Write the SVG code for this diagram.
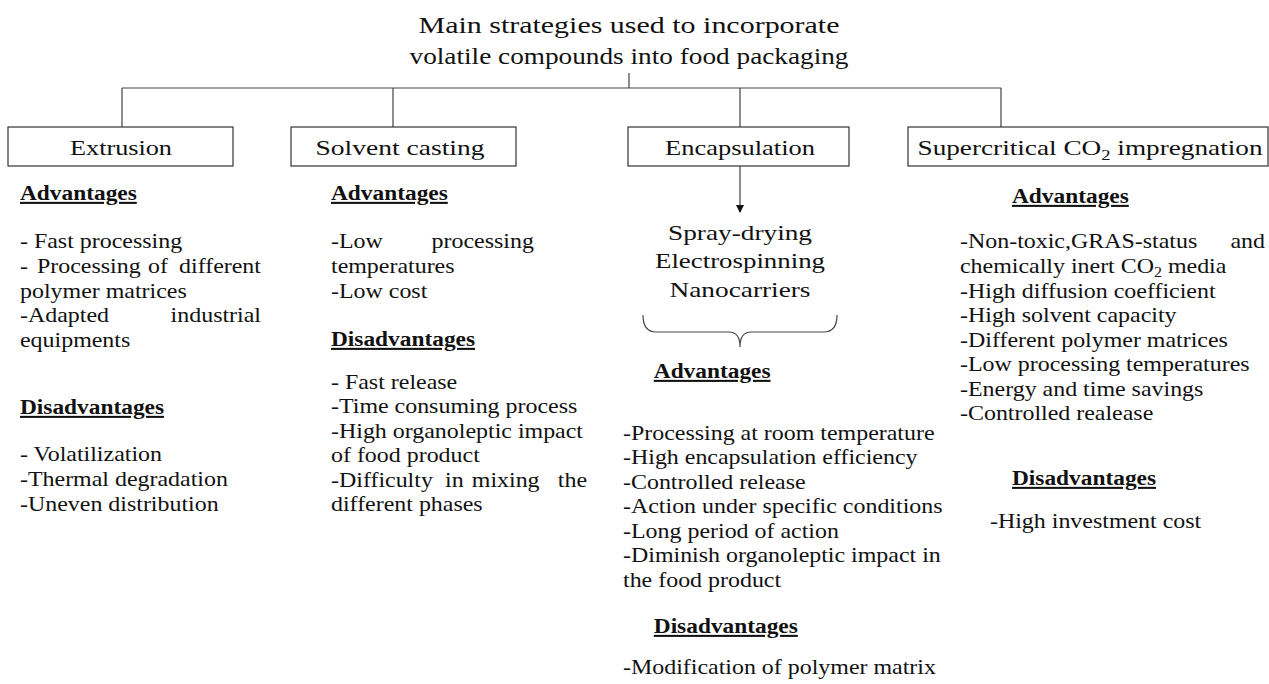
<svg xmlns="http://www.w3.org/2000/svg" width="1269" height="684" viewBox="0 0 1269 684">
<style>
text{font-family:"Liberation Serif","Times New Roman",serif;fill:#111}
.t{font-size:23px;text-anchor:middle}
.h{font-size:22px;text-anchor:middle}
.b{font-size:21px}
.e{font-size:21px;text-anchor:end}
.hd{font-size:20.5px;font-weight:bold;text-decoration:underline}
.box{fill:#fff;stroke:#333;stroke-width:1.2}
.ln{fill:none;stroke:#444;stroke-width:1.2}
</style>
<defs>
<marker id="arr" markerWidth="8" markerHeight="8" refX="7" refY="4" orient="auto" markerUnits="userSpaceOnUse">
<path d="M0,0 L8,4 L0,8 z" fill="#111"/>
</marker>
</defs>
<g id="title">
<text class="t" x="629" y="33" textLength="421" lengthAdjust="spacingAndGlyphs">Main strategies used to incorporate</text>
<text class="t" x="629" y="64" textLength="439" lengthAdjust="spacingAndGlyphs">volatile compounds into food packaging</text>
</g>
<g id="connectors">
<path class="ln" d="M629,73 V88 M122,88 H1001 M122,88 V127 M393,88 V127 M740,88 V127 M1001,88 V127"/>
<path class="ln" d="M740,166 V212" marker-end="url(#arr)"/>
<path class="ln" d="M643,315 Q643,332 656,332 H729 Q740,332 740,347 Q740,332 751,332 H824 Q837,332 837,315"/>
</g>
<g id="extrusion">
<rect class="box" x="8" y="127" width="225" height="39"/>
<text class="h" x="121" y="155" textLength="102" lengthAdjust="spacingAndGlyphs">Extrusion</text>
<g transform="translate(20,0) scale(1.14,1)">
<text class="hd" x="0" y="200">Advantages</text>
<text class="b" x="0" y="248">- Fast processing</text>
<text class="b" x="0" y="273">-</text><text class="b" x="14.9" y="273">Processing</text><text class="b" x="112.3" y="273">of</text><text class="e" x="211.4" y="273">different</text>
<text class="b" x="0" y="298">polymer matrices</text>
<text class="b" x="0" y="322">-Adapted</text><text class="e" x="211.4" y="322">industrial</text>
<text class="b" x="0" y="347">equipments</text>
<text class="hd" x="0" y="414">Disadvantages</text>
<text class="b" x="0" y="461">- Volatilization</text>
<text class="b" x="0" y="486">-Thermal degradation</text>
<text class="b" x="0" y="511">-Uneven distribution</text>
</g>
</g>
<g id="solvent">
<rect class="box" x="291" y="127" width="225" height="39"/>
<text class="h" x="400" y="155" textLength="169" lengthAdjust="spacingAndGlyphs">Solvent casting</text>
<g transform="translate(331,0) scale(1.14,1)">
<text class="hd" x="0" y="200">Advantages</text>
<text class="b" x="0" y="248">-Low</text><text class="e" x="178" y="248">processing</text>
<text class="b" x="0" y="273">temperatures</text>
<text class="b" x="0" y="298">-Low cost</text>
<text class="hd" x="0" y="346">Disadvantages</text>
<text class="b" x="0" y="389">- Fast release</text>
<text class="b" x="0" y="413">-Time consuming process</text>
<text class="b" x="0" y="438">-High organoleptic impact</text>
<text class="b" x="0" y="462">of food product</text>
<text class="b" x="0" y="487">-Difficulty</text><text class="b" x="100" y="487">in</text><text class="b" x="123.5" y="487">mixing</text><text class="e" x="224.6" y="487">the</text>
<text class="b" x="0" y="511">different phases</text>
</g>
</g>
<g id="encapsulation">
<rect class="box" x="628" y="127" width="221" height="39"/>
<text class="h" x="740" y="155" textLength="150" lengthAdjust="spacingAndGlyphs">Encapsulation</text>
<text class="h" x="740" y="240" textLength="144" lengthAdjust="spacingAndGlyphs">Spray-drying</text>
<text class="h" x="740" y="268" textLength="170" lengthAdjust="spacingAndGlyphs">Electrospinning</text>
<text class="h" x="740" y="297" textLength="141" lengthAdjust="spacingAndGlyphs">Nanocarriers</text>
<g transform="translate(623,0) scale(1.14,1)">
<text class="hd" x="27" y="378">Advantages</text>
<text class="b" x="0" y="440">-Processing at room temperature</text>
<text class="b" x="0" y="464">-High encapsulation efficiency</text>
<text class="b" x="0" y="489">-Controlled release</text>
<text class="b" x="0" y="513">-Action under specific conditions</text>
<text class="b" x="0" y="538">-Long period of action</text>
<text class="b" x="0" y="562">-Diminish organoleptic impact in</text>
<text class="b" x="0" y="587">the food product</text>
<text class="hd" x="27" y="633">Disadvantages</text>
<text class="b" x="0" y="674">-Modification of polymer matrix</text>
</g>
</g>
<g id="supercritical">
<rect class="box" x="908" y="127" width="360" height="39"/>
<text class="h" x="1090" y="155" textLength="345" lengthAdjust="spacingAndGlyphs">Supercritical CO<tspan font-size="15" dy="5">2</tspan><tspan dy="-5"> impregnation</tspan></text>
<g transform="translate(960,0) scale(1.14,1)">
<text class="hd" x="45.6" y="203">Advantages</text>
<text class="b" x="0" y="248">-Non-toxic,GRAS-status</text><text class="e" x="267.5" y="248">and</text>
<text class="b" x="0" y="273">chemically inert CO<tspan font-size="14" dy="4">2</tspan><tspan dy="-4"> media</tspan></text>
<text class="b" x="0" y="298">-High diffusion coefficient</text>
<text class="b" x="0" y="322">-High solvent capacity</text>
<text class="b" x="0" y="347">-Different polymer matrices</text>
<text class="b" x="0" y="371">-Low processing temperatures</text>
<text class="b" x="0" y="396">-Energy and time savings</text>
<text class="b" x="0" y="420">-Controlled realease</text>
<text class="hd" x="45.6" y="485">Disadvantages</text>
<text class="b" x="26.3" y="528">-High investment cost</text>
</g>
</g>
</svg>
